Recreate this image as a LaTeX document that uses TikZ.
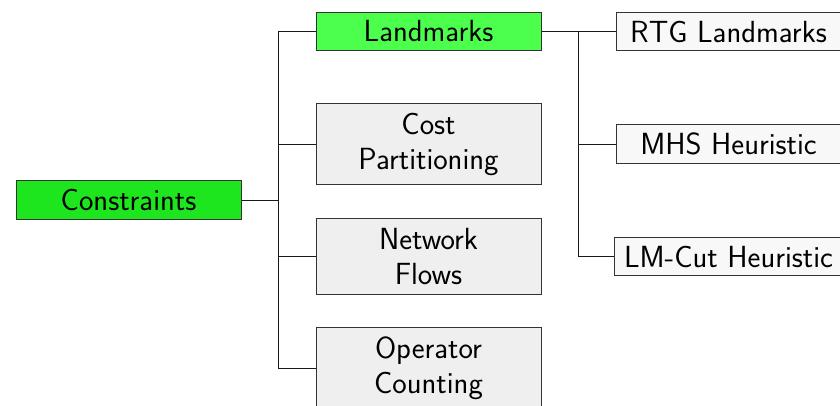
\documentclass[tikz,border=0pt]{standalone}
\usepackage{fontspec}
\definecolor{rootgreen}{RGB}{30,230,30}
\definecolor{lmgreen}{RGB}{77,255,77}
\definecolor{boxgray}{RGB}{239,239,239}
\definecolor{leafgray}{RGB}{248,248,248}
\begin{document}
\begin{tikzpicture}[x=1pt,y=-1pt,
  box/.style={draw=black!80, line width=1pt, minimum width=225pt, inner xsep=9.5pt, inner ysep=0pt,
    align=center, font=\fontsize{30.6}{35}\selectfont\sffamily},
  single/.style={box, minimum height=38.5pt},
  conn/.style={draw=black!90, line width=1pt}]
\useasboundingbox (0,0) rectangle (840,405);
\clip (0,0) rectangle (840,405);
\node[single, fill=rootgreen] (con) at (128.5,200) {Constraints};
\node[single, fill=lmgreen] (lm) at (428.5,31.5) {Landmarks};
\node[box, fill=boxgray, minimum height=80.5pt] (cp) at (428.5,144) {Cost\\Partitioning};
\node[box, fill=boxgray, minimum height=76pt] (nf) at (428.5,256) {Network\\Flows};
\node[box, fill=boxgray, minimum height=80.5pt] (oc) at (428.5,368) {Operator\\Counting};
\node[single, fill=leafgray] (rtg) at (728.5,31.5) {RTG Landmarks};
\node[single, fill=leafgray] (mhs) at (728.5,144) {MHS Heuristic};
\node[single, fill=leafgray] (lmc) at (728.5,256.5) {LM-Cut Heuristic};
\coordinate (t1) at (278,0);
\coordinate (t2) at (578,0);
\draw[conn] (con.east) -- (con.east -| t1);
\draw[conn] (lm.west -| t1) -- (oc.west -| t1);
\foreach \n in {lm,cp,nf,oc} \draw[conn] (\n.west -| t1) -- (\n.west);
\draw[conn] (lm.east) -- (lm.east -| t2);
\draw[conn] (rtg.west -| t2) -- (lmc.west -| t2);
\foreach \n in {rtg,mhs,lmc} \draw[conn] (\n.west -| t2) -- (\n.west);
\end{tikzpicture}
\end{document}
